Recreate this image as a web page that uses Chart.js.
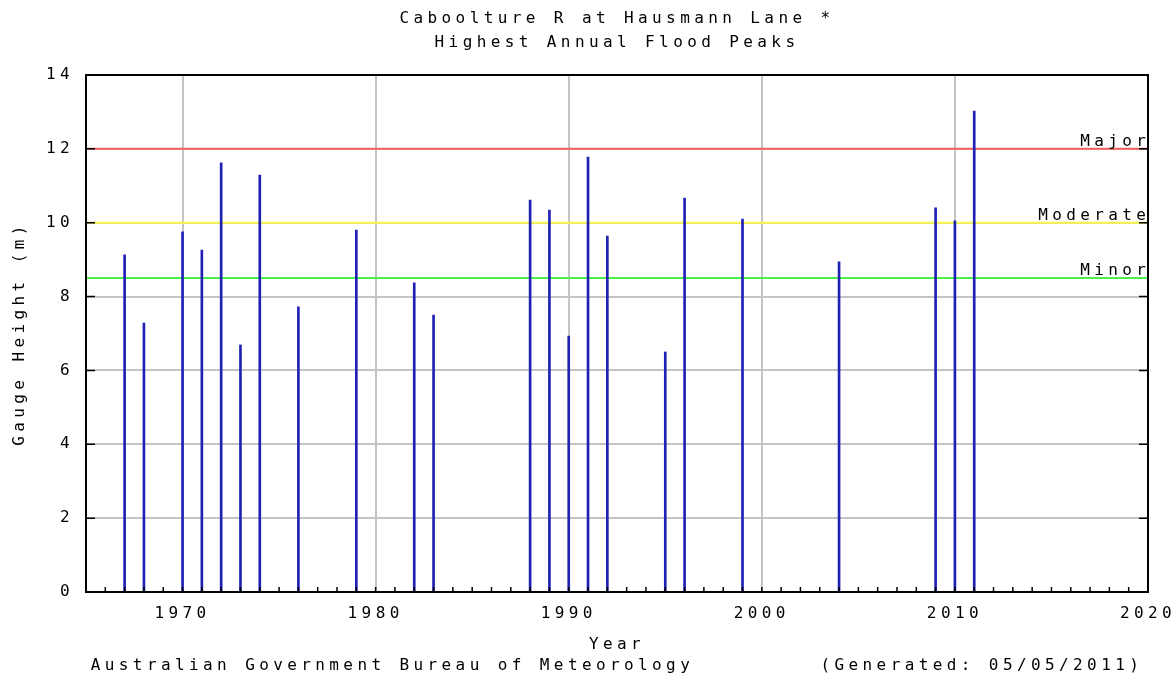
<!DOCTYPE html>
<html>
<head>
<meta charset="utf-8">
<title>Caboolture R at Hausmann Lane</title>
<script src="https://cdn.jsdelivr.net/npm/chart.js@4.4.1/dist/chart.umd.min.js"></script>
<style>
  html, body { margin: 0; padding: 0; background: #fff; }
  #wrap { width: 1176px; height: 678px; position: relative; }
</style>
</head>
<body>
<div id="wrap"><canvas id="chart"></canvas></div>
<script>
// highest annual flood peaks
const years = [1967, 1968, 1970, 1971, 1972, 1973, 1974, 1976, 1979, 1982, 1983, 1988,
               1989, 1990, 1991, 1992, 1995, 1996, 1999, 2004, 2009, 2010, 2011];
const peaks = [9.13, 7.28, 9.75, 9.26, 11.62, 6.69, 11.29, 7.72, 9.80, 8.37, 7.50, 10.61,
               10.34, 6.93, 11.78, 9.64, 6.50, 10.67, 10.10, 8.94, 10.40, 10.05, 13.02];

// flood classification levels
const levelNames = ["Minor", "Moderate", "Major"];
const levelHeights = [8.5, 10, 12];
const levelColours = ["#48f048", "#f8f848", "#f86060"];

const titleLines = ["Caboolture R at Hausmann Lane *", "Highest Annual Flood Peaks"];
const footer = "Australian Government Bureau of Meteorology         (Generated: 05/05/2011)";

const FONT = "'DejaVu Sans Mono', monospace";
const SIZE = 16;
const SPACING = 4.4;

// the original uses a wide bitmap font, so spread the letters out
const letterSpacing = {
  id: "letterSpacing",
  beforeUpdate(chart) { chart.ctx.letterSpacing = SPACING + "px"; },
  beforeDraw(chart) { chart.ctx.letterSpacing = SPACING + "px"; }
};

// frame, inward tick marks and the level names
const frame = {
  id: "frame",
  afterDatasetsDraw(chart) {
    const { ctx, chartArea: a, scales } = chart;
    ctx.save();
    ctx.strokeStyle = "#000";
    ctx.lineWidth = 1.5;
    ctx.beginPath();
    for (let yr = 1965; yr <= 2020; yr++) {
      const x = scales.x.getPixelForValue(yr);
      ctx.moveTo(x, a.bottom);
      ctx.lineTo(x, a.bottom - 5);
    }
    for (let v = 0; v <= 14; v += 2) {
      const y = scales.y.getPixelForValue(v);
      ctx.moveTo(a.left, y);
      ctx.lineTo(a.left + 9, y);
      ctx.moveTo(a.right, y);
      ctx.lineTo(a.right - 9, y);
    }
    ctx.stroke();
    ctx.lineWidth = 2;
    ctx.strokeRect(a.left, a.top, a.right - a.left, a.bottom - a.top);

    ctx.font = SIZE + "px " + FONT;
    ctx.fillStyle = "#000";
    ctx.textAlign = "right";
    ctx.textBaseline = "alphabetic";
    levelNames.forEach((name, i) => {
      const y = scales.y.getPixelForValue(levelHeights[i]);
      ctx.fillText(name, a.right + SPACING - 2, y - 3);
    });
    ctx.restore();
  }
};

const levelSets = levelNames.map((name, i) => ({
  type: "line",
  label: name,
  data: [{ x: 1965, y: levelHeights[i] }, { x: 2020, y: levelHeights[i] }],
  borderColor: levelColours[i],
  borderWidth: 2,
  pointRadius: 0,
  order: 2
}));

const ctx = document.getElementById("chart").getContext("2d");
new Chart(ctx, {
  type: "bar",
  data: {
    datasets: [
      {
        label: "Peak",
        data: years.map((yr, i) => ({ x: yr, y: peaks[i] })),
        backgroundColor: "#2020b4",
        barThickness: 2,
        order: 1
      },
      ...levelSets
    ]
  },
  options: {
    responsive: true,
    maintainAspectRatio: false,
    animation: false,
    layout: { padding: { left: 0, right: 28, top: 0, bottom: 0 } },
    plugins: {
      legend: { display: false },
      tooltip: { enabled: false },
      title: {
        display: true,
        text: titleLines,
        fullSize: false,
        color: "#000",
        font: { family: FONT, size: SIZE, weight: "normal", lineHeight: "24px" },
        padding: { top: 7, bottom: 20 }
      },
      subtitle: {
        display: true,
        position: "bottom",
        text: footer,
        fullSize: false,
        color: "#000",
        font: { family: FONT, size: SIZE, weight: "normal", lineHeight: "20px" },
        padding: { top: 0, bottom: 2 }
      }
    },
    scales: {
      x: {
        type: "linear",
        min: 1965,
        max: 2020,
        offset: false,
        afterFit(scale) {
          scale.height = 64;
          scale.paddingLeft = 0;
          scale.paddingRight = 0;
        },
        ticks: {
          stepSize: 1,
          autoSkip: false,
          maxRotation: 0,
          color: "#000",
          padding: 12,
          font: { family: FONT, size: SIZE },
          callback: v => (v % 10 === 0 && v > 1965 ? String(v) : "")
        },
        grid: {
          offset: false,
          drawTicks: false,
          lineWidth: 2,
          color: c => (c.tick && c.tick.value % 10 === 0 ? "#c4c4c4" : "rgba(0,0,0,0)")
        },
        border: { display: false },
        title: {
          display: true,
          text: "Year",
          color: "#000",
          font: { family: FONT, size: SIZE, lineHeight: "18px" },
          padding: { top: 0, bottom: 2 }
        }
      },
      y: {
        min: 0,
        max: 14,
        afterFit(scale) {
          scale.width = 86;
          scale.paddingTop = 0;
          scale.paddingBottom = 0;
        },
        ticks: {
          stepSize: 2,
          color: "#000",
          padding: 12,
          font: { family: FONT, size: SIZE }
        },
        grid: { drawTicks: false, lineWidth: 2, color: "#c4c4c4" },
        border: { display: false },
        title: {
          display: true,
          text: "Gauge Height (m)",
          color: "#000",
          font: { family: FONT, size: SIZE, lineHeight: "18px" },
          padding: { top: 11, bottom: 0 }
        }
      }
    }
  },
  plugins: [letterSpacing, frame]
});
</script>
</body>
</html>
